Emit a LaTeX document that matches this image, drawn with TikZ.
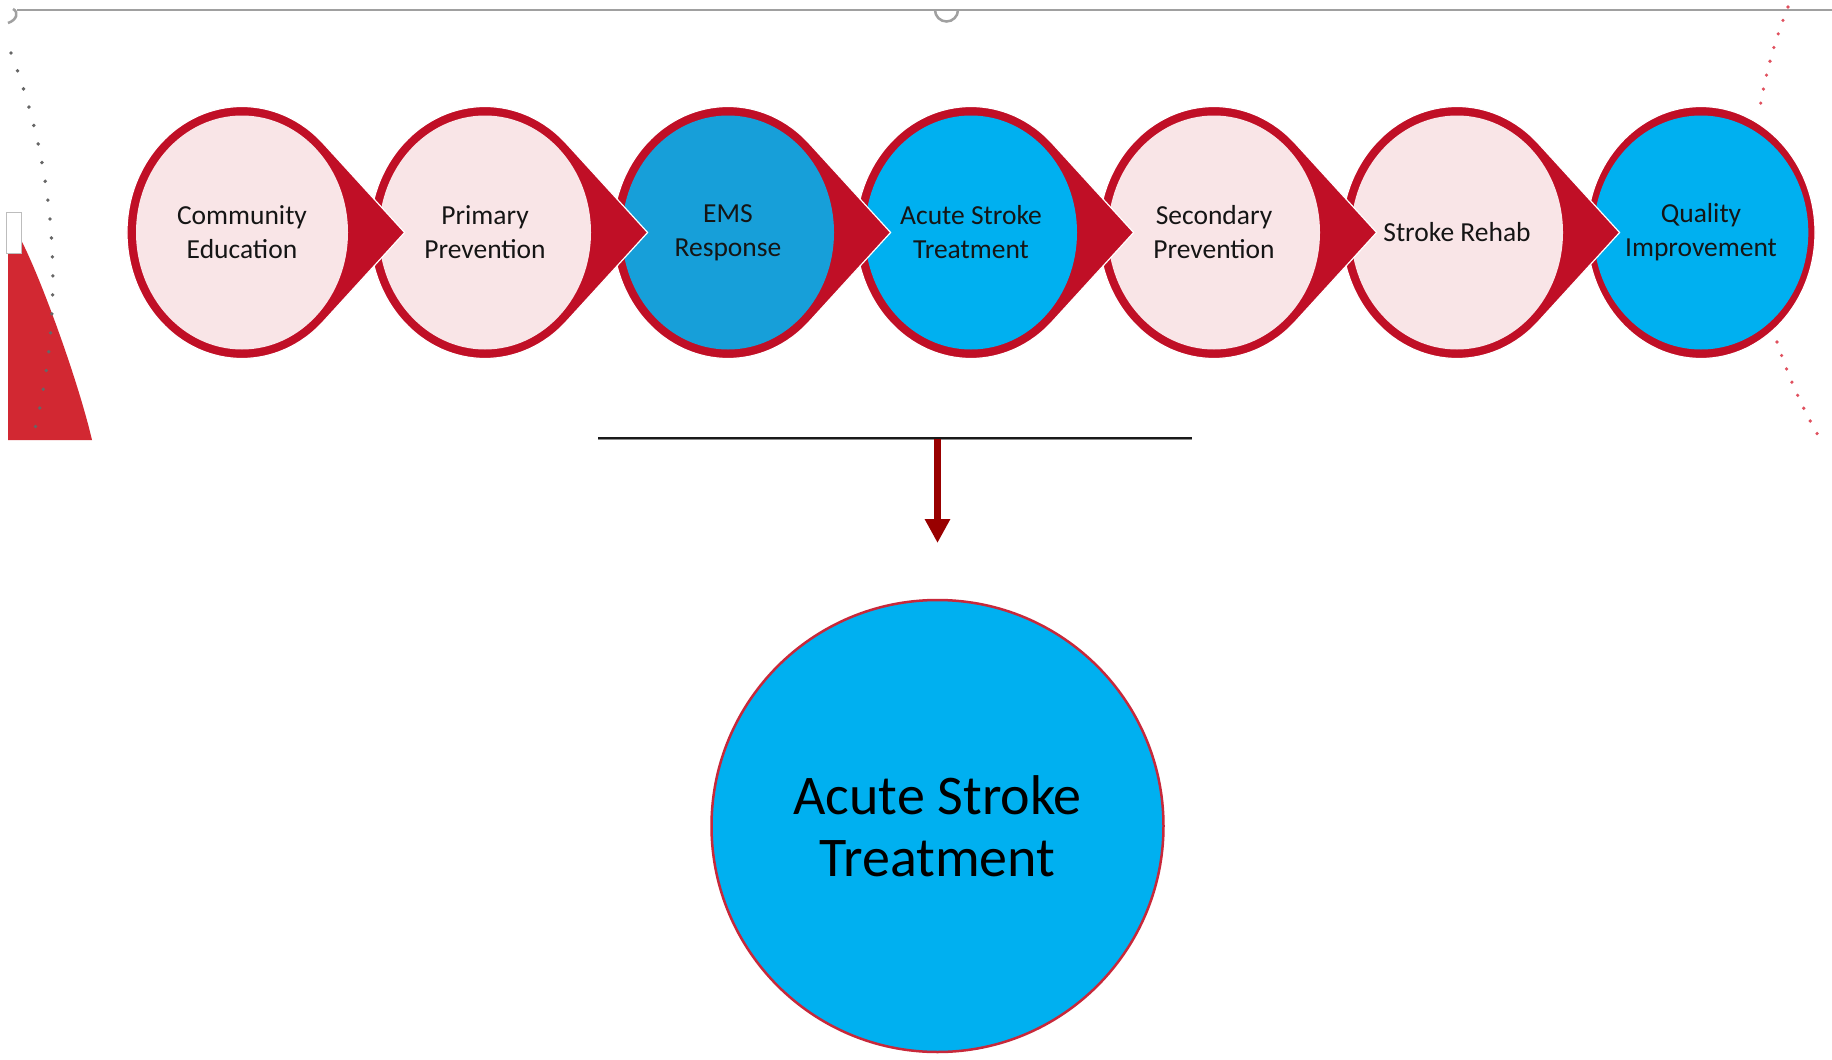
\documentclass[tikz,border=0pt]{standalone}
\usepackage{fontspec}
\setmainfont{Carlito}
\usetikzlibrary{shapes.geometric, arrows.meta}
\definecolor{ringred}{HTML}{C00F26}
\definecolor{pinkfill}{HTML}{F9E5E7}
\definecolor{emsblue}{HTML}{179FD9}
\definecolor{skyblue}{HTML}{00B0F0}
\definecolor{txt}{HTML}{151515}
\definecolor{arrowred}{HTML}{990000}
\definecolor{guidegray}{HTML}{A0A0A0}
\definecolor{dotgray}{HTML}{666666}
\definecolor{dotred}{HTML}{E0505E}
\definecolor{cornerred}{HTML}{D22832}
\definecolor{bigborder}{HTML}{C8283A}
\newcommand{\stepfont}{\fontsize{27.5}{34}\selectfont}
\newcommand{\bigfont}{\fontsize{56}{62}\selectfont}
\tikzset{
  ringshape/.style={fill=ringred, draw=white, line width=1.2pt},
  stepcirc/.style={ellipse, minimum width=212pt, minimum height=234pt, inner sep=0pt,
    align=center, font=\stepfont, text=txt},
  bigcirc/.style={circle, minimum size=452pt, inner sep=0pt, fill=skyblue, draw=bigborder,
    line width=2.5pt, align=center, font=\bigfont, text=black},
  guideline/.style={guidegray, line width=2.5pt},
  graydots/.style={dotgray, line width=3.8pt, line cap=round, dash pattern=on 0pt off 19pt},
  reddots/.style={dotred, line width=3.6pt, line cap=round, dash pattern=on 0pt off 14.3pt},
  downarrow/.style={arrowred, line width=7.5pt, -{Triangle[length=24pt,width=24pt]}}
}
\newcommand{\tearshape}[1]{\filldraw[ringshape] ({#1+162.6},232.5) -- ({#1+81.3},143.4)
  arc[start angle=45,end angle=315,x radius=115pt,y radius=126pt] -- cycle;}
\begin{document}
\begin{tikzpicture}[x=1pt,y=-1pt]
\useasboundingbox (0,0) rectangle (1832,1060);
\fill[white] (0,0) rectangle (1832,1060);

% top guide line with handles
\draw[guideline] (17,10) -- (1832,10);
\draw[guideline] (935,10) arc[start angle=180,end angle=360,radius=11.5pt];
\draw[guideline] (13,9) .. controls (19,12) and (17,20) .. (8,23);

% left decoration
\fill[cornerred] (8,440) -- (8,236) -- (19,236) -- (21,240) .. controls (40,276) and (78,380) .. (92,440) -- cycle;
\filldraw[fill=white, draw=guidegray!70, line width=0.8pt] (6,212) rectangle (21,253);
\draw[graydots] (11,53) arc[start angle=20.93,end angle=-13.96,radius=634pt];

% right decoration
\draw[reddots] (1788,7) arc[start angle=158.35,end angle=170.5,radius=496pt];
\draw[reddots] (1777,342) arc[start angle=197.85,end angle=210.2,radius=496pt];

% process chain (drawn right to left so each tip lies on the next circle)
\filldraw[ringshape] (1701,232.5) ellipse[x radius=114pt, y radius=126pt];
\node[stepcirc, fill=skyblue] (quality) at (1701,232.5) {Quality\\Improvement};
\tearshape{1457}
\node[stepcirc, fill=pinkfill] (rehab) at (1457,232.5) {Stroke Rehab};
\tearshape{1214}
\node[stepcirc, fill=pinkfill] (secondary) at (1214,232.5) {Secondary\\Prevention};
\tearshape{971}
\node[stepcirc, fill=skyblue] (acute) at (971,232.5) {Acute Stroke\\Treatment};
\tearshape{728}
\node[stepcirc, fill=emsblue] (ems) at (728,232.5) {EMS\\Response};
\tearshape{485}
\node[stepcirc, fill=pinkfill] (primary) at (485,232.5) {Primary\\Prevention};
\tearshape{242}
\node[stepcirc, fill=pinkfill] (community) at (242,232.5) {Community\\Education};

% bracket line and arrow
\coordinate (barL) at (598,438);
\coordinate (barR) at (1192,438);
\draw[black!45, line width=1.5pt] ([yshift=-1.6pt]barL) -- ([yshift=-1.6pt]barR);
\draw[black!90, line width=2.2pt] (barL) -- (barR);
\coordinate (split) at (937.5,439);
\coordinate (arrowend) at (937.5,543);
\draw[downarrow] (split) -- (arrowend);

% enlarged stage
\node[bigcirc] (acutebig) at (937.5,826) {Acute Stroke\\Treatment};
\end{tikzpicture}
\end{document}
